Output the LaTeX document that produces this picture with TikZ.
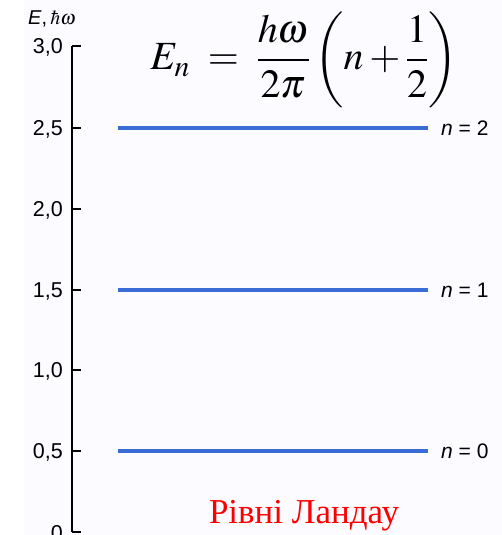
\documentclass[tikz,border=0pt]{standalone}
\usepackage{mathptmx}
\usepackage{fontspec}
\setmainfont{Liberation Serif}
\newfontfamily\axisfont{Liberation Sans}
\usetikzlibrary{positioning}
\definecolor{lvlB}{RGB}{58,108,214}
\definecolor{bgL}{RGB}{252,251,255}
\definecolor{capR}{RGB}{255,0,0}

\begin{document}
\begin{tikzpicture}[
  x=1pt, y=-1pt,
  axis/.style={line width=2pt},
  tick/.style={line width=1.6pt},
  level/.style={draw=lvlB, line width=4pt},
  val/.style={anchor=east, inner sep=0pt, font=\axisfont\fontsize{21.5}{21.5}\selectfont},
  nlab/.style={anchor=west, inner sep=0pt, font=\axisfont\fontsize{21}{21}\selectfont},
  formula/.style={inner sep=0pt, font=\fontsize{40}{40}\selectfont},
  caption/.style={inner sep=0pt, text=capR, font=\fontsize{35}{35}\selectfont}
]
\useasboundingbox (0,0) rectangle (502,535);
\clip (0,0) rectangle (502,535);
\fill[bgL] (24,0) rectangle (502,535);

% axis
\coordinate (top) at (72,46);
\coordinate (bot) at (72,532);
\draw[axis] (top) -- (bot);
\node[anchor=west, inner sep=0pt, font=\axisfont\fontsize{20}{20}\selectfont] (elab) at (28,19) {{\itshape E},\,$\hbar\omega$};

% ticks and values
\coordinate (t30) at (72,46);
\coordinate (t25) at (72,128);
\coordinate (t20) at (72,209);
\coordinate (t15) at (72,290);
\coordinate (t10) at (72,370);
\coordinate (t05) at (72,451);
\coordinate (t00) at (72,532);
\draw[tick] (t30) -- ++(9,0);
\draw[tick] (t25) -- ++(9,0);
\draw[tick] (t20) -- ++(9,0);
\draw[tick] (t15) -- ++(9,0);
\draw[tick] (t10) -- ++(9,0);
\draw[tick] (t05) -- ++(9,0);
\draw[tick] (t00) -- ++(9,0);
\node[val] (v30) at (63,47) {3,0};
\node[val] (v25) at (63,129) {2,5};
\node[val] (v20) at (63,210) {2,0};
\node[val] (v15) at (63,291) {1,5};
\node[val] (v10) at (63,371) {1,0};
\node[val] (v05) at (63,452) {0,5};
\node[val] (v00) at (63,533) {0};

% Landau levels
\coordinate (a2) at (118,128);
\coordinate (b2) at (428,128);
\coordinate (a1) at (118,290);
\coordinate (b1) at (428,290);
\coordinate (a0) at (118,451);
\coordinate (b0) at (428,451);
\draw[level] (a2) -- (b2);
\draw[level] (a1) -- (b1);
\draw[level] (a0) -- (b0);
\node[nlab] (n2) at (441,128) {{\itshape n} = 2};
\node[nlab] (n1) at (441,290) {{\itshape n} = 1};
\node[nlab] (n0) at (441,451) {{\itshape n} = 0};

\node[formula] (en) at (304,60) {$\displaystyle E_n \;=\; \frac{h\omega}{2\pi}\left(n+\frac{1}{2}\right)$};
\node[caption] (title) at (304,516) {Рівні Ландау};
\end{tikzpicture}
\end{document}
